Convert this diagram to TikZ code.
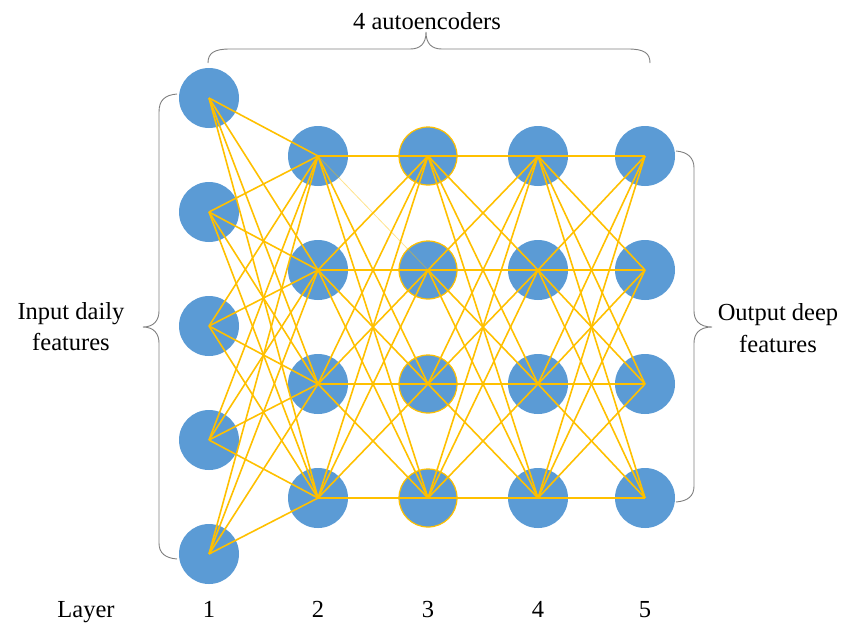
\documentclass[tikz,border=0pt]{standalone}
\usepackage{fontspec}
\setmainfont{Liberation Serif}
\definecolor{nodeblue}{HTML}{5B9BD5}
\definecolor{linkgold}{HTML}{FFC000}
\definecolor{bracegray}{HTML}{7F7F7F}
\begin{document}
\begin{tikzpicture}[x=1pt,y=-1pt,
  neuron/.style={circle, fill=nodeblue, minimum size=60pt, inner sep=0pt},
  aeneuron/.style={neuron, draw=linkgold, line width=1.2pt, minimum size=58pt},
  link/.style={draw=linkgold, line width=1.6pt},
  faintlink/.style={draw=linkgold, line width=0.8pt, opacity=0.45},
  bracepath/.style={draw=bracegray, line width=0.9pt},
  lbl/.style={font=\fontsize{24.5}{29}\selectfont, inner sep=0pt, anchor=base}]
\useasboundingbox (0,0) rectangle (845,622);
% layer 1
\foreach \i/\y in {1/98,2/212,3/326,4/440,5/554}
  \node[neuron] (n1-\i) at (209,\y) {};
% layers 2-5
\foreach \i/\y in {1/156,2/270,3/384,4/498} {
  \node[neuron] (n2-\i) at (318,\y) {};
  \node[aeneuron] (n3-\i) at (428,\y) {};
  \node[neuron] (n4-\i) at (538,\y) {};
  \node[neuron] (n5-\i) at (645,\y) {};
}
% links 1 -> 2
\foreach \i in {1,...,5}
  \foreach \j in {1,...,4}
    \draw[link] (n1-\i.center) -- (n2-\j.center);
% links 2 -> 3
\foreach \j in {1,3,4}
  \draw[link] (n2-1.center) -- (n3-\j.center);
\draw[faintlink] (n2-1.center) -- (n3-2.center);
\foreach \i in {2,3,4}
  \foreach \j in {1,...,4}
    \draw[link] (n2-\i.center) -- (n3-\j.center);
% links 3 -> 4 and 4 -> 5
\foreach \i in {1,...,4}
  \foreach \j in {1,...,4} {
    \draw[link] (n3-\i.center) -- (n4-\j.center);
    \draw[link] (n4-\i.center) -- (n5-\j.center);
  }
% braces
\draw[bracepath] (208,63) .. controls (208,53) and (214,49) .. (230,49) -- (410,49)
  .. controls (420,49) and (426,44) .. (426,32)
  .. controls (426,44) and (432,49) .. (442,49) -- (628,49)
  .. controls (644,49) and (650,53) .. (650,63);
\draw[bracepath] (177,94) .. controls (165,95) and (159,100) .. (159,112) -- (159,311)
  .. controls (159,320) and (154,327) .. (143,327)
  .. controls (154,327) and (159,334) .. (159,343) -- (159,543)
  .. controls (159,553) and (165,558) .. (177,559);
\draw[bracepath] (676,151) .. controls (688,152) and (694,158) .. (694,168) -- (694,311)
  .. controls (694,320) and (699,327) .. (712,327)
  .. controls (699,327) and (694,334) .. (694,343) -- (694,486)
  .. controls (694,496) and (688,501) .. (676,502);
% texts
\node[lbl] (ttop) at (427,29) {4 autoencoders};
\node[lbl] (tin1) at (71,319) {Input daily};
\node[lbl] (tin2) at (71,350) {features};
\node[lbl] (tout1) at (778,320) {Output deep};
\node[lbl] (tout2) at (778,352) {features};
\node[lbl] (tlayer) at (86,617) {Layer};
\foreach \k/\x in {1/209,2/318,3/428,4/538,5/645}
  \node[lbl] (tl\k) at (\x,617) {\k};
\end{tikzpicture}
\end{document}
